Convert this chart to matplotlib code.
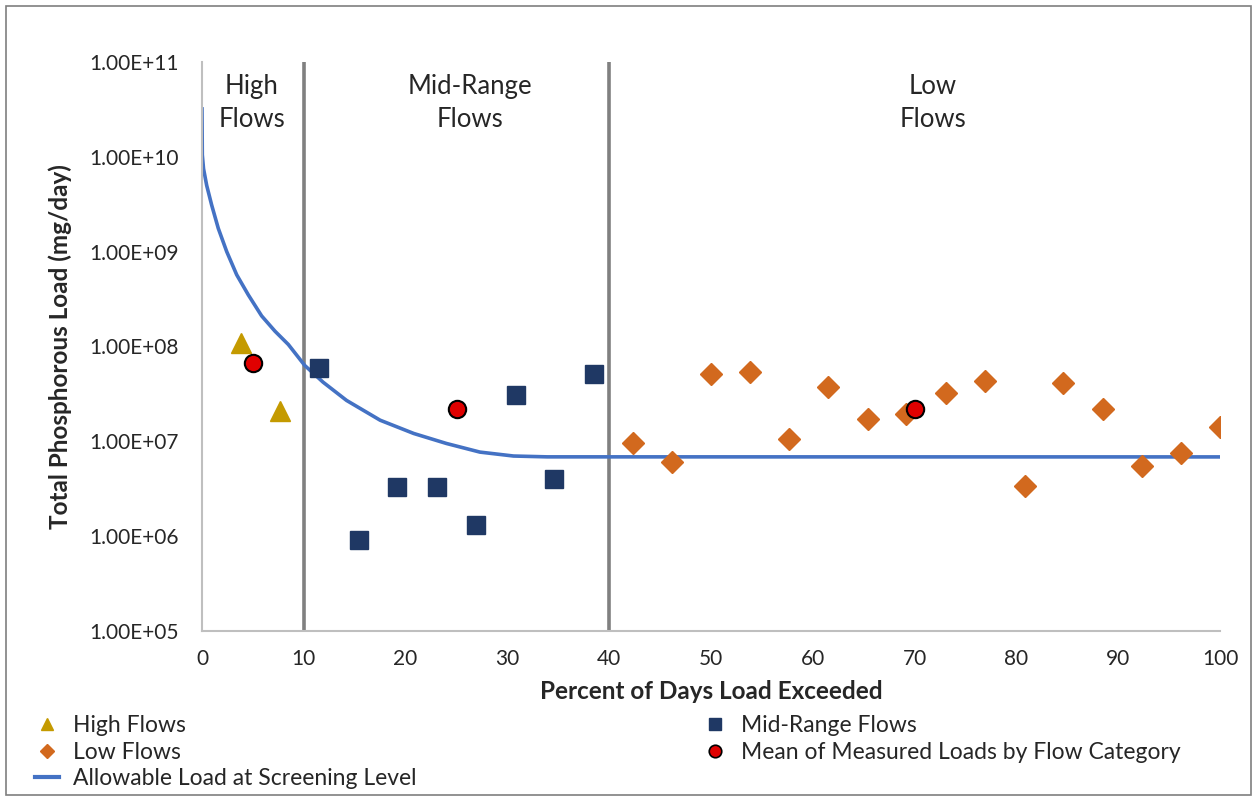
import math
import matplotlib
matplotlib.use("Agg")
import matplotlib.pyplot as plt
from matplotlib.lines import Line2D
from matplotlib.patches import Rectangle
from matplotlib.ticker import FixedLocator, FuncFormatter, NullLocator

plt.rcParams['font.family'] = ['Lato', 'DejaVu Sans']

# percent of days load exceeded / load (mg/day)
high_x = [3.85, 7.7]
high_y = [1.1e8, 2.1e7]

mid_x = [11.5, 15.4, 19.2, 23.1, 26.9, 30.8, 34.6, 38.5]
mid_y = [5.9e7, 9.1e5, 3.3e6, 3.3e6, 1.3e6, 3.05e7, 4.0e6, 5.1e7]

low_x = [42.3, 46.2, 50.0, 53.8, 57.7, 61.5, 65.4, 69.2,
         73.1, 76.9, 80.8, 84.6, 88.5, 92.3, 96.2, 100.0]
low_y = [9.5e6, 6.1e6, 5.1e7, 5.4e7, 1.07e7, 3.75e7, 1.7e7, 1.95e7,
         3.25e7, 4.35e7, 3.4e6, 4.1e7, 2.2e7, 5.5e6, 7.5e6, 1.42e7]

mean_x = [5, 25, 70]
mean_y = [6.7e7, 2.2e7, 2.2e7]

# allowable load curve
curve_x = [0, 0.03, 0.15, 0.46, 0.95, 1.6, 2.43, 3.41, 4.55, 5.86, 7.17, 8.48,
           10.1, 11.9, 14.2, 17.5, 20.8, 24.0, 27.3, 30.6, 33.9, 100]
curve_y = [3.2e10, 1.05e10, 7.5e9, 5.0e9, 3.1e9, 1.76e9, 1.0e9, 5.7e8, 3.5e8, 2.1e8, 1.45e8, 1.05e8,
           6.3e7, 4.2e7, 2.7e7, 1.67e7, 1.21e7, 9.5e6, 7.7e6, 7.0e6, 6.86e6, 6.85e6]

regions = ["High\nFlows", "Mid-Range\nFlows", "Low\nFlows"]
region_x = [4.9, 26.3, 71.8]
dividers = [10, 40]

txt = '#262626'

fig = plt.figure(figsize=(12.55, 7.98), dpi=100)
ax = fig.add_axes([202 / 1255, 1 - 631 / 798, 1018 / 1255, 569 / 798])

# outer frame of the chart
fig.patches.append(Rectangle((6 / 1255, 3 / 798), 1245 / 1255, 789 / 798,
                             transform=fig.transFigure, fill=False,
                             edgecolor='#7f7f7f', lw=1.2))

ax.set_yscale('log')
ax.set_xlim(0, 100)
ax.set_ylim(1e5, 1e11)

for d in dividers:
    ax.axvline(d, color='#808080', lw=2.6, zorder=1)

ax.plot(curve_x, curve_y, color='#4472C4', lw=2.6, zorder=2, solid_joinstyle='round')
ax.plot(high_x, high_y, '^', color='#C49A00', ms=14, ls='none', zorder=3)
ax.plot(mid_x, mid_y, 's', color='#1F3864', ms=13.5, ls='none', zorder=3)
ax.plot(low_x, low_y, 'D', color='#D2691E', ms=11, ls='none', zorder=3)
ax.plot(mean_x, mean_y, 'o', color='#E00000', mec='black', mew=1.5, ms=12.5,
        ls='none', zorder=4)

for lbl, xx in zip(regions, region_x):
    ax.text(xx, 10 ** 10.568, lbl, ha='center', va='center', fontsize=18.5,
            color=txt, linespacing=1.36)

for s in ['top', 'right']:
    ax.spines[s].set_visible(False)
for s in ['left', 'bottom']:
    ax.spines[s].set_color('#bfbfbf')
    ax.spines[s].set_linewidth(1.5)

ax.xaxis.set_major_locator(FixedLocator(range(0, 101, 10)))
ax.yaxis.set_major_locator(FixedLocator([10.0 ** k for k in range(5, 12)]))
ax.yaxis.set_minor_locator(NullLocator())
ax.yaxis.set_major_formatter(FuncFormatter(lambda v, p: "1.00E+%02d" % round(math.log10(v))))
ax.tick_params(length=0, labelsize=15, colors=txt)
ax.tick_params(axis='y', pad=17)
ax.tick_params(axis='x', pad=13)

ax.set_xlabel("Percent of Days Load Exceeded", fontsize=17.5, fontweight='bold',
              color=txt, labelpad=8)
ax.set_ylabel("Total Phosphorous Load (mg/day)", fontsize=17.5, fontweight='bold',
              color=txt, labelpad=12)

leg_kw = dict(loc='upper left', frameon=False, fontsize=16.5, handlelength=1.05,
              handletextpad=0.6, labelspacing=0.25, borderpad=0, borderaxespad=0,
              labelcolor=txt)

h1 = [
    Line2D([], [], marker='^', color='#C49A00', ls='none', ms=9),
    Line2D([], [], marker='D', color='#D2691E', ls='none', ms=7),
    Line2D([], [], color='#4472C4', lw=3),
]
l1 = ["High Flows", "Low Flows", "Allowable Load at Screening Level"]
h2 = [
    Line2D([], [], marker='s', color='#1F3864', ls='none', ms=9),
    Line2D([], [], marker='o', color='#E00000', mec='black', mew=1.2, ls='none', ms=9),
]
l2 = ["Mid-Range Flows", "Mean of Measured Loads by Flow Category"]

fig.legend(h1, l1, bbox_to_anchor=(35 / 1255, 1 - 715 / 798), **leg_kw)
fig.legend(h2, l2, bbox_to_anchor=(703 / 1255, 1 - 715 / 798), **leg_kw)

fig.savefig("out.png", dpi=100)
